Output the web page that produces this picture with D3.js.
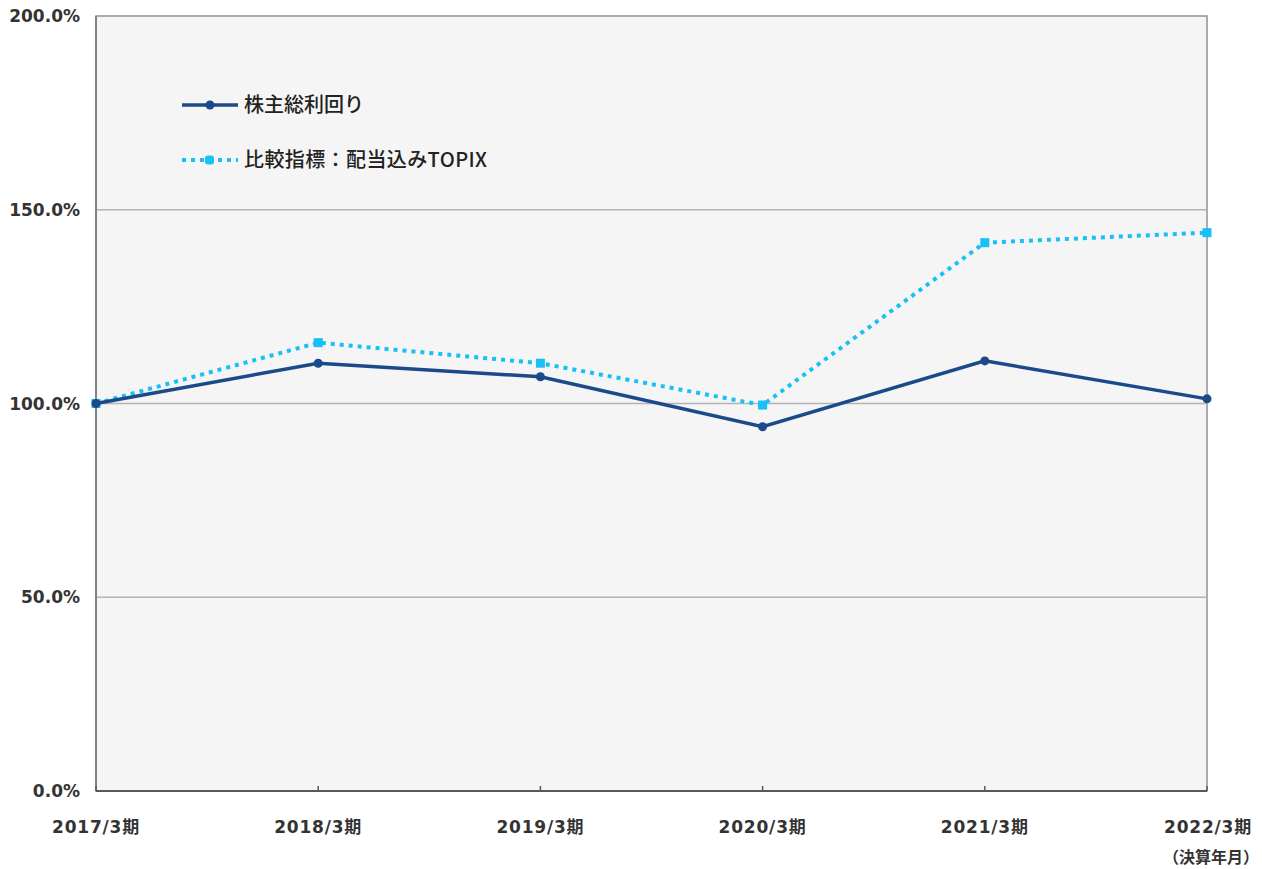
<!DOCTYPE html>
<html>
<head>
<meta charset="utf-8">
<script src="https://cdn.jsdelivr.net/npm/d3@7"></script>
<style>
  body { margin: 0; background: #fff; }
</style>
</head>
<body>
<div id="chart"></div>
<script>
// data
var periods = ['2017/3期', '2018/3期', '2019/3期', '2020/3期', '2021/3期', '2022/3期'];
var tsrValues = [100, 110.4, 106.9, 94.0, 111.0, 101.2];
var topixValues = [100, 115.7, 110.4, 99.6, 141.5, 144.1];
var yTicks = [0, 50, 100, 150, 200];
var seriesNames = ['株主総利回り', '比較指標：配当込みTOPIX'];

var width = 1262, height = 869;
var margin = { l: 96, r: 55, t: 16, b: 78 };
var labelFont = '"DejaVu Sans", "Noto Sans CJK JP", sans-serif';

var svg = d3.select('#chart').append('svg')
    .attr('width', width)
    .attr('height', height);

var x = d3.scalePoint()
    .domain(periods)
    .range([margin.l, width - margin.r]);

var y = d3.scaleLinear()
    .domain([0, 200])
    .range([height - margin.b, margin.t]);

// plot background
svg.append('rect')
    .attr('x', margin.l)
    .attr('y', margin.t)
    .attr('width', width - margin.l - margin.r)
    .attr('height', height - margin.t - margin.b)
    .attr('fill', '#f5f5f5')
    .attr('stroke', '#8c939c')
    .attr('stroke-width', 1.5);

// gridlines
svg.append('g')
    .selectAll('line')
    .data(yTicks.filter(d => d > 0 && d < 200))
    .enter()
    .append('line')
    .attr('x1', margin.l)
    .attr('x2', width - margin.r)
    .attr('y1', d => y(d))
    .attr('y2', d => y(d))
    .attr('stroke', '#b4b4b4')
    .attr('stroke-width', 1.5);

// y axis labels
svg.append('g')
    .selectAll('text')
    .data(yTicks)
    .enter()
    .append('text')
    .attr('x', 80)
    .attr('y', d => y(d) + 6)
    .attr('text-anchor', 'end')
    .attr('font-family', labelFont)
    .attr('font-size', 17)
    .attr('font-weight', 'bold')
    .attr('fill', '#333')
    .text(d => d.toFixed(1) + '%');

// left and bottom axis lines
svg.append('line')
    .attr('x1', margin.l).attr('x2', margin.l)
    .attr('y1', margin.t).attr('y2', y(0))
    .attr('stroke', '#7d848d').attr('stroke-width', 2);
svg.append('line')
    .attr('x1', margin.l).attr('x2', width - margin.r)
    .attr('y1', y(0)).attr('y2', y(0))
    .attr('stroke', '#555a60').attr('stroke-width', 2);

// small category ticks
svg.append('g')
    .selectAll('line')
    .data(periods)
    .enter()
    .append('line')
    .attr('x1', d => x(d)).attr('x2', d => x(d))
    .attr('y1', y(0)).attr('y2', y(0) - 5)
    .attr('stroke', '#555a60').attr('stroke-width', 1.5);

// x labels
svg.append('g')
    .selectAll('text')
    .data(periods)
    .enter()
    .append('text')
    .attr('x', (d, i) => i === periods.length - 1 ? 1252 : x(d))
    .attr('y', 833)
    .attr('text-anchor', (d, i) => i === periods.length - 1 ? 'end' : 'middle')
    .attr('font-family', labelFont)
    .attr('font-size', 17)
    .attr('letter-spacing', 0.8)
    .attr('font-weight', 'bold')
    .attr('fill', '#333')
    .text(d => d);

svg.append('text')
    .attr('x', 1259)
    .attr('y', 863)
    .attr('text-anchor', 'end')
    .attr('font-family', labelFont)
    .attr('font-size', 16)
    .attr('font-weight', 'bold')
    .attr('fill', '#333')
    .text('（決算年月）');

var line = d3.line()
    .x((d, i) => x(periods[i]))
    .y(d => y(d));

var navy = '#1a4a8a';
var cyan = '#17c0f5';

// TOPIX series (dotted)
svg.append('path')
    .datum(topixValues)
    .attr('d', line)
    .attr('fill', 'none')
    .attr('stroke', cyan)
    .attr('stroke-width', 4)
    .attr('stroke-dasharray', '4,5');

svg.append('g')
    .selectAll('rect')
    .data(topixValues)
    .enter()
    .append('rect')
    .attr('x', (d, i) => x(periods[i]) - 4.5)
    .attr('y', d => y(d) - 4.5)
    .attr('width', 9)
    .attr('height', 9)
    .attr('fill', cyan);

// TSR series
svg.append('path')
    .datum(tsrValues)
    .attr('d', line)
    .attr('fill', 'none')
    .attr('stroke', navy)
    .attr('stroke-width', 3.5);

svg.append('g')
    .selectAll('circle')
    .data(tsrValues)
    .enter()
    .append('circle')
    .attr('cx', (d, i) => x(periods[i]))
    .attr('cy', d => y(d))
    .attr('r', 4.5)
    .attr('fill', navy);

// legend
var legend = svg.append('g');
legend.append('line')
    .attr('x1', 182).attr('x2', 238)
    .attr('y1', 105).attr('y2', 105)
    .attr('stroke', navy).attr('stroke-width', 3.5);
legend.append('circle')
    .attr('cx', 210).attr('cy', 105).attr('r', 4.5)
    .attr('fill', navy);
legend.append('text')
    .attr('x', 244).attr('y', 112)
    .attr('font-size', 20)
    .attr('font-weight', 500)
    .attr('fill', '#222')
    .attr('font-family', '"Noto Sans CJK JP", sans-serif')
    .text(seriesNames[0]);

legend.append('line')
    .attr('x1', 182).attr('x2', 238)
    .attr('y1', 160).attr('y2', 160)
    .attr('stroke', cyan).attr('stroke-width', 4)
    .attr('stroke-dasharray', '4,5');
legend.append('rect')
    .attr('x', 205).attr('y', 155.5).attr('width', 9).attr('height', 9)
    .attr('rx', 3)
    .attr('fill', cyan);
legend.append('text')
    .attr('x', 244).attr('y', 167)
    .attr('font-size', 20)
    .attr('font-weight', 500)
    .attr('letter-spacing', 0.4)
    .attr('fill', '#222')
    .attr('font-family', '"Noto Sans CJK JP", sans-serif')
    .text(seriesNames[1]);
</script>
</body>
</html>
